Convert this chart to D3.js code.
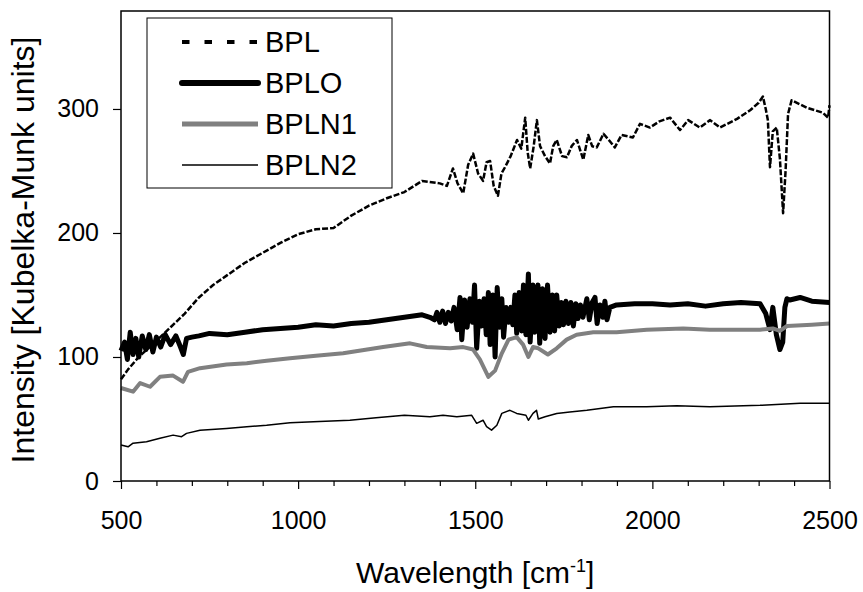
<head>
    <meta name="viewport" content="width=device-width, initial-scale=1">
    <style>
        body { margin: 0; background: #fff; }
        text { font-family: "Liberation Sans", Arial, sans-serif; fill: #000; }
    </style>
    <script src="https://cdn.jsdelivr.net/npm/d3@7"></script>
</head>
<body>
    <div id="chart"></div>
    <script>

        // wavenumber / intensity pairs
        var bplX = [500, 520, 550, 600, 640, 680, 720, 760, 800, 850, 900, 950, 1000, 1050, 1100, 1150, 1200, 1250, 1300, 1350, 1400,
            1420, 1437, 1450, 1466, 1480, 1494, 1508, 1522, 1532, 1542, 1552, 1564, 1574, 1584, 1600, 1618, 1630, 1641, 1648, 1655,
            1665, 1674, 1683, 1697, 1711, 1720, 1730, 1745, 1759, 1772, 1787, 1805, 1819, 1830, 1843, 1862, 1880, 1894, 1913, 1945,
            1965, 1993, 2020, 2050, 2078, 2101, 2134, 2163, 2191, 2239, 2276, 2300, 2312, 2320, 2326, 2332, 2340, 2351, 2360, 2369,
            2376, 2383, 2393, 2436, 2481, 2496, 2500];
        var bplY = [82, 90, 100, 113, 124, 135, 148, 158, 166, 176, 184, 192, 199, 203, 204, 214, 222, 228, 233, 242, 240,
            238, 252, 240, 232, 255, 264, 248, 242, 257, 258, 238, 230, 248, 253, 262, 275, 268, 293, 265, 252,
            270, 291, 270, 262, 256, 270, 275, 262, 261, 270, 275, 259, 279, 270, 269, 280, 274, 269, 279, 277,
            288, 285, 290, 293, 283, 291, 285, 291, 285, 292, 299, 305, 310, 300, 291, 253, 282, 285, 260, 216,
            250, 296, 307, 301, 297, 293, 303];

        var bploX = [500, 510, 518, 526, 534, 542, 550, 560, 570, 580, 590, 600, 612, 625, 640, 655, 668, 676, 685, 700, 720, 750,
            800, 850, 900, 950, 1000, 1050, 1100, 1150, 1200, 1250, 1300, 1350, 1372, 1385, 1392, 1400, 1408, 1416, 1424, 1432,
            1440, 1449, 1457, 1462, 1470, 1477, 1485, 1492, 1498, 1504, 1512, 1518, 1525, 1531, 1537, 1542, 1550, 1556, 1562,
            1568, 1575, 1580, 1587, 1594, 1600, 1606, 1612, 1617, 1624, 1631, 1636, 1643, 1650, 1655, 1663, 1668, 1677, 1682,
            1690, 1697, 1704, 1711, 1718, 1724, 1730, 1737, 1743, 1749, 1756, 1763, 1770, 1777, 1784, 1790, 1797, 1804, 1815,
            1822, 1830, 1838, 1844, 1852, 1860, 1866, 1872, 1880, 1899, 1950, 2000, 2050, 2100, 2150, 2200, 2250, 2304, 2320,
            2332, 2340, 2350, 2360, 2368, 2374, 2380, 2388, 2417, 2450, 2500];
        var bploY = [105, 112, 98, 120, 102, 115, 100, 117, 106, 118, 104, 116, 108, 118, 110, 117, 108, 102, 115, 116, 117, 119,
            118, 120, 122, 123, 124, 126, 125, 127, 128, 130, 132, 134, 132, 130, 136, 128, 137, 127, 136, 129,
            140, 122, 148, 114, 146, 124, 147, 128, 158, 107, 145, 125, 147, 118, 152, 110, 150, 100, 156,
            124, 147, 116, 140, 128, 140, 126, 150, 119, 152, 121, 158, 118, 167, 112, 158, 120, 158, 111,
            155, 115, 158, 120, 150, 121, 150, 125, 144, 126, 145, 127, 144, 125, 143, 131, 142, 132, 147,
            130, 144, 148, 127, 142, 132, 145, 130, 140, 142, 143, 143, 142, 143, 141, 143, 144, 143, 135,
            122, 140, 118, 106, 112, 140, 147, 146, 148, 145, 144];

        var bpln1X = [500, 534, 554, 582, 610, 647, 675, 689, 723, 798, 855, 911, 977, 1050, 1127, 1240, 1316, 1363, 1429, 1466,
            1494, 1513, 1537, 1556, 1575, 1594, 1617, 1635, 1650, 1663, 1678, 1705, 1730, 1758, 1786, 1833, 1899, 1984, 2087,
            2162, 2240, 2304, 2340, 2360, 2380, 2450, 2500];
        var bpln1Y = [75, 72, 79, 76, 84, 85, 80, 88, 91, 94, 95, 97, 99, 101, 103, 108, 111, 108, 107, 108,
            106, 98, 84, 89, 103, 114, 116, 110, 100, 108, 107, 102, 107, 114, 118, 120, 120, 122, 123,
            122, 122, 122, 123, 121, 125, 126, 127];

        var bpln2X = [500, 520, 534, 572, 610, 647, 671, 685, 723, 798, 855, 911, 977, 1060, 1146, 1220, 1300, 1372, 1409, 1448,
            1490, 1504, 1522, 1532, 1546, 1561, 1575, 1598, 1617, 1643, 1650, 1663, 1673, 1678, 1697, 1730, 1767, 1815, 1890,
            1984, 2069, 2162, 2304, 2417, 2500];
        var bpln2Y = [29, 27.6, 30.5, 31.7, 34.4, 37, 35.7, 38.4, 41, 42.4, 43.8, 45, 47, 48, 49, 51, 53, 51.8, 53, 51.8,
            53, 46.5, 49, 43.8, 41, 45, 54.5, 57, 54.5, 53, 49, 54.5, 57, 50, 51.8, 54.5, 55.6, 57, 59.9,
            59.9, 60.7, 59.9, 61, 62.6, 62.6];

        var xTicks = [500, 1000, 1500, 2000, 2500];
        var yTicks = [0, 100, 200, 300];
        var legendNames = ["BPL", "BPLO", "BPLN1", "BPLN2"];

        var W = 863, H = 592;
        var margin = {left: 121, right: 829.5, top: 11, bottom: 481};

        var svg = d3.select("#chart").append("svg")
            .attr("width", W)
            .attr("height", H);

        var x = d3.scaleLinear().domain([500, 2500]).range([margin.left, margin.right]);
        var y = d3.scaleLinear().domain([0, 379]).range([margin.bottom, margin.top]);

        function pairs(xs, ys) {
            return xs.map((d, i) => [d, ys[i]]);
        }

        var line = d3.line()
            .x(d => x(d[0]))
            .y(d => y(d[1]));

        var styles = [
            {data: pairs(bplX, bplY), col: "#000", w: 2.5, dash: "6,2"},
            {data: pairs(bploX, bploY), col: "#000", w: 5, dash: null},
            {data: pairs(bpln1X, bpln1Y), col: "#808080", w: 4, dash: null},
            {data: pairs(bpln2X, bpln2Y), col: "#000", w: 1.5, dash: null}
        ];

        var lines = svg.append("g");
        styles.forEach(function(s) {
            lines.append("path")
                .datum(s.data)
                .attr("fill", "none")
                .attr("stroke", s.col)
                .attr("stroke-width", s.w)
                .attr("stroke-linejoin", "round")
                .attr("stroke-dasharray", s.dash)
                .attr("d", line);
        });

        // plot frame
        svg.append("rect")
            .attr("x", margin.left).attr("y", margin.top)
            .attr("width", margin.right - margin.left).attr("height", margin.bottom - margin.top)
            .attr("fill", "none").attr("stroke", "#000").attr("stroke-width", 1.5);

        // x axis, minor then major ticks
        var minor = d3.range(600, 2500, 100).filter(d => d % 500 != 0);
        svg.append("g")
            .attr("transform", "translate(0," + margin.bottom + ")")
            .call(d3.axisBottom(x).tickValues(minor).tickSize(5).tickFormat(""))
            .call(g => g.select(".domain").remove());

        var xx = svg.append("g")
            .attr("transform", "translate(0," + margin.bottom + ")")
            .call(d3.axisBottom(x).tickValues(xTicks).tickSize(8).tickPadding(22).tickFormat(d3.format("d")));
        xx.select(".domain").remove();

        var yx = svg.append("g")
            .attr("transform", "translate(" + margin.left + ",0)")
            .call(d3.axisLeft(y).tickValues(yTicks).tickSize(8).tickPadding(14));
        yx.select(".domain").remove();

        svg.selectAll(".tick line").attr("stroke", "#000").attr("stroke-width", 1.2);
        svg.selectAll(".tick text")
            .style("font-family", "'Liberation Sans', Arial, sans-serif")
            .style("font-size", "25px")
            .attr("fill", "#000");

        // axis titles
        var xt = svg.append("text")
            .attr("x", (margin.left + margin.right) / 2)
            .attr("y", 583)
            .attr("text-anchor", "middle")
            .style("font-size", "30px")
            .text("Wavelength [cm");
        xt.append("tspan").attr("dy", -11).style("font-size", "18px").text("-1");
        xt.append("tspan").attr("dy", 11).text("]");

        svg.append("text")
            .attr("transform", "translate(34," + 250 + ") rotate(-90)")
            .attr("text-anchor", "middle")
            .style("font-size", "32px")
            .text("Intensity [Kubelka-Munk units]");

        // legend
        var leg = svg.append("g");
        leg.append("rect")
            .attr("x", 147).attr("y", 18)
            .attr("width", 245).attr("height", 170)
            .attr("fill", "#fff").attr("stroke", "#000").attr("stroke-width", 1);

        var legW = [4, 6, 5, 1.5];
        var legDash = ["7.5,15", null, null, null];
        legendNames.forEach(function(name, i) {
            var cy = 42 + i * 41;
            leg.append("line")
                .attr("x1", 182).attr("x2", 258)
                .attr("y1", cy).attr("y2", cy)
                .attr("stroke", styles[i].col)
                .attr("stroke-width", legW[i])
                .attr("stroke-linecap", i == 1 ? "round" : "butt")
                .attr("stroke-dasharray", legDash[i]);
            leg.append("text")
                .attr("x", 265).attr("y", cy + 10)
                .style("font-size", "29px")
                .text(name);
        });

    </script>
</body>
